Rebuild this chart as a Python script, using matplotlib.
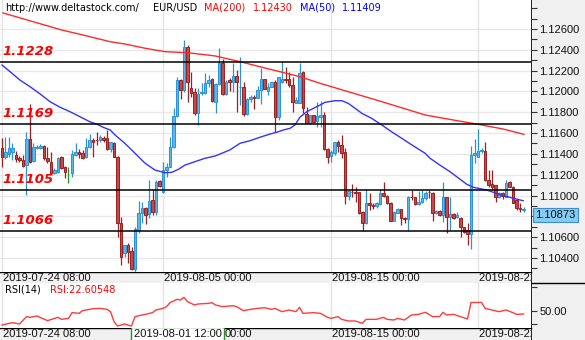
import matplotlib
matplotlib.use('Agg')
import matplotlib.pyplot as plt
import matplotlib.transforms as mtransforms
import numpy as np

# ---------------- data ----------------
opens = [1.11454,1.11374,1.11400,1.11422,1.11390,1.11364,1.11342,1.11294,1.11540,1.11332,
         1.11460,1.11454,1.11476,1.11358,1.11326,1.11214,1.11230,1.11368,1.11278,1.11214,
         1.11220,1.11390,1.11422,1.11412,1.11368,1.11464,1.11534,1.11534,1.11534,1.11550,
         1.11550,1.11444,1.11508,1.11374,1.10740,1.10452,1.10526,1.10472,1.10292,1.10670,
         1.10830,1.10878,1.10820,1.10958,1.10846,1.11140,1.11038,1.11246,1.11278,1.11464,
         1.11764,1.12110,1.12014,1.12424,1.12030,1.11998,1.11796,1.11982,1.11982,1.12084,
         1.12116,1.11902,1.12068,1.12276,1.11972,1.12110,1.12094,1.12148,1.12040,1.12046,
         1.11780,1.11924,1.11950,1.11940,1.12014,1.12116,1.12008,1.12046,1.12094,1.11752,
         1.12094,1.12116,1.12116,1.12062,1.11892,1.11892,1.12190,1.11784,1.11700,1.11774,
         1.11720,1.11758,1.11774,1.11444,1.11380,1.11412,1.11518,1.11486,1.11422,1.10996,
         1.11038,1.11038,1.11032,1.10846,1.10734,1.10926,1.10910,1.10904,1.10920,1.11022,
         1.10996,1.10932,1.10760,1.10836,1.10868,1.10782,1.10772,1.10990,1.10984,1.10920,
         1.10942,1.10974,1.11038,1.11028,1.10830,1.10852,1.10814,1.10984,1.10792,1.10824,
         1.10798,1.10788,1.10696,1.10670,1.10632,1.11390,1.11368,1.11432,1.11432,1.11150,
         1.11108,1.11102,1.10990,1.11022,1.10990,1.11131,1.11086,1.10958,1.10878,1.10862]
highs = [1.11550,1.11566,1.11560,1.11502,1.11432,1.11380,1.11390,1.11614,1.11880,1.11502,
         1.11486,1.11492,1.11486,1.11464,1.11422,1.11262,1.11374,1.11380,1.11284,1.11278,
         1.11438,1.11502,1.11444,1.11438,1.11550,1.11592,1.11550,1.11614,1.11582,1.11572,
         1.11630,1.11518,1.11518,1.11380,1.10798,1.10526,1.10542,1.10510,1.10702,1.10952,
         1.10942,1.10894,1.11150,1.11060,1.11150,1.11150,1.11326,1.11310,1.11560,1.11838,
         1.12142,1.12116,1.12494,1.12446,1.12190,1.12030,1.12030,1.12078,1.12180,1.12158,
         1.12126,1.12078,1.12414,1.12308,1.12110,1.12126,1.12276,1.12206,1.12328,1.12094,
         1.11934,1.11966,1.11966,1.12052,1.12222,1.12116,1.12078,1.12094,1.12110,1.12142,
         1.12296,1.12232,1.12190,1.12142,1.11950,1.12270,1.12200,1.11854,1.11774,1.11774,
         1.11902,1.11912,1.11806,1.11454,1.11438,1.11518,1.11534,1.11582,1.11454,1.11054,
         1.11112,1.11086,1.11038,1.10856,1.11060,1.11028,1.10926,1.10942,1.11060,1.11128,
         1.11006,1.10942,1.10856,1.10878,1.10875,1.10798,1.10996,1.11054,1.10990,1.11048,
         1.11054,1.11048,1.11054,1.11038,1.10862,1.10862,1.11134,1.10990,1.10990,1.10830,
         1.10846,1.10792,1.10702,1.10734,1.11476,1.11540,1.11636,1.11454,1.11518,1.11246,
         1.11246,1.11102,1.11038,1.11038,1.11150,1.11144,1.11092,1.10964,1.10926,1.10894]
lows = [1.11278,1.11348,1.11374,1.11342,1.11326,1.11326,1.11278,1.11006,1.11316,1.11323,
        1.11451,1.11444,1.11342,1.11310,1.11208,1.11208,1.11214,1.11252,1.11166,1.11124,
        1.11182,1.11380,1.11358,1.11348,1.11358,1.11454,1.11374,1.11486,1.11518,1.11518,
        1.11438,1.11422,1.11368,1.10606,1.10334,1.10408,1.10350,1.10280,1.10270,1.10638,
        1.10734,1.10728,1.10782,1.10814,1.10814,1.11080,1.11022,1.11182,1.11272,1.11454,
        1.11758,1.11924,1.11998,1.11902,1.11950,1.11774,1.11678,1.11966,1.11976,1.12046,
        1.11902,1.11790,1.12062,1.11966,1.11966,1.12004,1.11998,1.11806,1.11870,1.11764,
        1.11774,1.11902,1.11832,1.11934,1.11880,1.12020,1.11966,1.12040,1.11614,1.11726,
        1.12084,1.12084,1.12046,1.11806,1.11886,1.11886,1.11796,1.11694,1.11684,1.11700,
        1.11656,1.11662,1.11438,1.11310,1.11326,1.11390,1.11422,1.11358,1.10916,1.10958,
        1.10990,1.10942,1.10824,1.10664,1.10728,1.10862,1.10868,1.10878,1.10910,1.10990,
        1.10920,1.10756,1.10756,1.10830,1.10718,1.10740,1.10664,1.10958,1.10910,1.10910,
        1.10926,1.10958,1.10974,1.10760,1.10824,1.10804,1.10750,1.10638,1.10670,1.10772,
        1.10782,1.10600,1.10638,1.10526,1.10484,1.11310,1.11368,1.11412,1.11144,1.11086,
        1.11054,1.10942,1.10974,1.10964,1.10984,1.11080,1.10926,1.10862,1.10846,1.10846]
closes = [1.11374,1.11422,1.11454,1.11454,1.11348,1.11342,1.11288,1.11540,1.11326,1.11470,
          1.11470,1.11476,1.11358,1.11336,1.11214,1.11246,1.11358,1.11262,1.11230,1.11214,
          1.11400,1.11422,1.11400,1.11358,1.11470,1.11534,1.11518,1.11531,1.11560,1.11534,
          1.11444,1.11518,1.11374,1.10740,1.10408,1.10526,1.10462,1.10292,1.10676,1.10830,
          1.10878,1.10814,1.10952,1.10846,1.11134,1.11096,1.11246,1.11278,1.11464,1.11764,
          1.12110,1.12014,1.12424,1.12094,1.11988,1.11796,1.11976,1.11998,1.12084,1.12110,
          1.11908,1.12068,1.12270,1.11972,1.12094,1.12094,1.12148,1.12094,1.12046,1.11784,
          1.11924,1.11950,1.11940,1.12014,1.12116,1.12024,1.12046,1.12094,1.11752,1.12136,
          1.12116,1.12110,1.12062,1.11902,1.11918,1.12174,1.11844,1.11700,1.11774,1.11710,
          1.11764,1.11774,1.11444,1.11374,1.11422,1.11518,1.11476,1.11412,1.10996,1.11044,
          1.11032,1.11022,1.10836,1.10734,1.10926,1.10910,1.10904,1.10926,1.11022,1.10996,
          1.10932,1.10760,1.10840,1.10868,1.10782,1.10776,1.10984,1.10984,1.10920,1.10942,
          1.10974,1.11028,1.11032,1.10830,1.10852,1.10811,1.10984,1.10798,1.10824,1.10782,
          1.10814,1.10696,1.10654,1.10628,1.11390,1.11412,1.11432,1.11438,1.11150,1.11102,
          1.11086,1.10990,1.11022,1.10996,1.11124,1.11086,1.10932,1.10878,1.10872,1.10873]

ma200_idx = [0.3, 17.1, 23.2, 30.9, 35.1, 40.9, 46.6, 53.2, 60.9, 68.0, 76.6, 85.1, 90.9,
             98.9, 108.5, 120.9, 128.9, 136.1, 143.2, 149.1]
ma200_val = [1.12754, 1.12590, 1.12542, 1.12478, 1.12456, 1.12415, 1.12382, 1.12372, 1.12341,
             1.12286, 1.12213, 1.12142, 1.12078, 1.11998, 1.11902, 1.11774, 1.11726, 1.11684,
             1.11639, 1.11588]
ma50_idx = [0.0, 2.3, 5.1, 8.0, 10.9, 13.7, 16.6, 19.4, 22.3, 25.1, 27.0, 28.9, 30.9,
            32.3, 35.1, 38.0, 40.9, 43.7, 46.6, 48.5, 50.4, 52.3, 55.1, 58.0, 60.9,
            62.3, 65.1, 68.0, 70.9, 73.7, 76.6, 78.5, 80.4, 82.3, 83.7, 85.1, 87.1, 89.0, 90.9,
            92.3, 95.1, 97.1, 98.9, 100.9, 102.8, 105.6, 108.5, 111.3, 114.2, 117.1, 120.9,
            122.3, 125.1, 128.0, 130.9, 132.8, 134.7, 138.5, 143.2, 146.1, 148.9]
ma50_val = [1.12254, 1.12190, 1.12110, 1.12046, 1.11976, 1.11902, 1.11848, 1.11806, 1.11757,
            1.11709, 1.11687, 1.11656, 1.11630,
            1.11582, 1.11502, 1.11406, 1.11310, 1.11245, 1.11219, 1.11223, 1.11252, 1.11293,
            1.11325, 1.11358, 1.11380,
            1.11399, 1.11438, 1.11502, 1.11527, 1.11560, 1.11591, 1.11608, 1.11630, 1.11646,
            1.11678, 1.11752, 1.11806, 1.11838, 1.11870,
            1.11896, 1.11911, 1.11911, 1.11886, 1.11838, 1.11790, 1.11742, 1.11678, 1.11613,
            1.11550, 1.11486, 1.11406,
            1.11358, 1.11293, 1.11229, 1.11156, 1.11108, 1.11079, 1.11053, 1.10999, 1.10974,
            1.10950]

rsi_idx = [0,3,5,7,8,10,13,16,17,19,20,22,23,26,28,30,31,32,33,35,37,38,40,41,43,44,46,47,48,50,
           51,52,53,55,56,59,60,61,63,66,67,69,71,73,75,77,78,80,82,84,85,86,89,91,93,94,96,97,99,101,
           103,104,107,109,110,112,113,115,117,119,121,123,125,126,127,129,131,133,134,137,
           138,140,142,144,146,147,149]
rsi_val = [24.5,28.8,26.3,39.7,38.5,40.9,32.4,38.5,34.8,36.6,47.0,45.7,50.6,54.2,54.8,53.0,48.8,30.6,22.7,26.3,
           22.6,39.7,42.7,43.9,47.0,51.8,54.8,57.9,65.1,71.2,70.0,74.8,67.0,60.9,62.7,63.9,65.1,60.9,57.9,59.7,
           57.9,50.6,53.0,54.8,56.0,53.0,54.8,48.8,51.8,48.8,56.6,45.7,47.0,45.7,38.5,36.6,39.7,34.8,31.8,31.8,
           27.6,34.8,34.8,38.5,34.8,33.6,36.6,33.6,42.7,43.9,47.6,39.7,39.7,47.6,42.7,43.9,39.7,35.4,65.4,65.7,
           54.8,51.8,48.8,51.8,46.9,43.9,44.5]

levels = [1.1228, 1.1169, 1.1105, 1.1066]
date_idx = [0, 46, 94, 136]
date_labels = ['2019-07-24 08:00', '2019-08-05 00:00', '2019-08-15 00:00', '2019-08-22 00:00']
cross_idx = 37
cross_label = '2019-08-01 12:00'
price_ticks = [1.104, 1.106, 1.108, 1.110, 1.112, 1.114, 1.116, 1.118, 1.120, 1.122, 1.124, 1.126]

# ---------------- layout ----------------
W, H = 585, 340
fig = plt.figure(figsize=(W / 100, H / 100), dpi=100)
fig.patch.set_facecolor('white')

def px_axes(x0, y0, x1, y1):
    return fig.add_axes([x0 / W, 1 - y1 / H, (x1 - x0) / W, (y1 - y0) / H])

XL = (-0.571, 151.14)
AX_FONT = 'Liberation Sans'
HD_FONT = 'DejaVu Sans'

# right panel background
ax_rp = px_axes(531, 0, 585, 340)
ax_rp.set_facecolor('#f0f0f0')
ax_rp.set_xlim(0, 1); ax_rp.set_ylim(340, 0)
ax_rp.set_xticks([]); ax_rp.set_yticks([])
for s in ax_rp.spines.values():
    s.set_visible(False)
ax_rp.axvline(0, color='black', lw=1.2)
ax_rp.axhline(283.3, color='black', lw=1.0)
ax_rp.set_zorder(0)

# main price axes
ax = px_axes(0, 0, 531, 272)
ax.set_zorder(2)
ax.set_xlim(*XL)
ax.set_ylim(1.102655, 1.128786)
for s in ax.spines.values():
    s.set_visible(False)
ax.set_xticks([])
ax.yaxis.tick_right()
last = closes[-1]
# the tick label hidden behind the last-price box is left out (its tick stays as a minor tick)
shown = [t for t in price_ticks if abs(t - last) >= 0.001]
ax.set_yticks(shown)
ax.set_yticklabels([f'{t:.5f}' for t in shown], fontfamily=AX_FONT, fontsize=8, color='#111111')
ax.set_yticks(np.arange(1.103, 1.1281, 0.001), minor=True)
ax.tick_params(axis='y', which='both', direction='out', length=4, width=0.8, color='#333333', pad=2)
ax.tick_params(axis='y', which='minor', labelright=False, labelleft=False)
for t in price_ticks:
    ax.axhline(t, color='#e9e9e9', lw=1.0, zorder=0)
for d in date_idx:
    ax.axvline(d, color='#e4e4e4', lw=1.0, zorder=0)

# candles
o = np.array(opens); h = np.array(highs); l = np.array(lows); c = np.array(closes)
idx = np.arange(len(o))
up = c > o
dn = c < o
eq = c == o
blue_edge, blue_fill = '#2a93d5', '#5cb6ea'
red_edge, red_fill = '#9e1f1f', '#c44a4a'
ax.vlines(idx[up], l[up], h[up], color=blue_edge, lw=0.9, zorder=3)
ax.vlines(idx[dn], l[dn], h[dn], color=red_edge, lw=0.9, zorder=3)
ax.vlines(idx[eq], l[eq], h[eq], color='#1a9a1a', lw=0.9, zorder=3)
ax.bar(idx[up], (c - o)[up], bottom=o[up], width=0.72, color=blue_fill,
       edgecolor=blue_edge, linewidth=0.7, zorder=4)
ax.bar(idx[dn], (o - c)[dn], bottom=c[dn], width=0.72, color=red_fill,
       edgecolor=red_edge, linewidth=0.7, zorder=4)

# moving averages
ax.plot(ma200_idx, ma200_val, color='#ff2a2a', lw=1.0, zorder=5)
ax.plot(ma50_idx, ma50_val, color='#3333ff', lw=1.0, zorder=5)

# support / resistance
blend = mtransforms.blended_transform_factory(ax.transAxes, ax.transData)
for lv in levels:
    ax.axhline(lv, color='black', lw=1.1, zorder=6)
    ax.annotate(f'{lv:.4f}', xy=(0, lv), xycoords=blend, xytext=(2, 3),
                textcoords='offset points', ha='left', va='bottom', color='#ff0000',
                fontsize=9.5, fontweight='bold', fontstyle='italic', family=HD_FONT, zorder=7)

# last price box
ax.annotate(f'{last:.5f}', xy=(1, last), xycoords=blend, xytext=(3, -1),
            textcoords='offset points', ha='left', va='top', fontsize=8, family=AX_FONT,
            color='#111111', annotation_clip=False, zorder=8,
            bbox=dict(boxstyle='square,pad=0.2', fc='#86ccf2', ec='#3a8fd0', lw=0.8))

# header
def ftext(x, y, s, color='black', size=7, family=HD_FONT):
    fig.text(x / W, 1 - y / H, s, color=color, fontsize=size, family=family,
             ha='left', va='center', zorder=10)

ftext(5, 8, 'http://www.deltastock.com/')
ftext(153, 8, 'EUR/USD')
ftext(204, 8, 'MA(200)', color='#ff0000')
ftext(253, 8, f'{1.12430:.5f}', color='#ff0000')
ftext(300, 8, 'MA(50)', color='#0000ff')
ftext(342, 8, f'{1.11409:.5f}', color='#0000ff')

# date bands
def date_band(y0, y1, cross=False):
    b = px_axes(0, y0, 531, y1)
    b.set_facecolor('#f0f0f0')
    b.set_xlim(*XL); b.set_ylim(0, 1)
    b.set_xticks([]); b.set_yticks([])
    for k, s in b.spines.items():
        s.set_visible(k == 'top')
    b.spines['top'].set_color('black'); b.spines['top'].set_linewidth(1.0)
    b.set_zorder(1)
    for d, lab in zip(date_idx, date_labels):
        t = b.text(d + 0.4, 0.45, lab, fontsize=8, family=AX_FONT, color='#111111',
                   ha='left', va='center', clip_on=True, zorder=2)
        if cross and d > cross_idx and d < cross_idx + 26:
            # the crosshair label hides the start of this label; keep the visible tail only
            fig.canvas.draw()
            ext = t.get_window_extent()
            x_end = b.transData.inverted().transform((ext.x1, 0))[0]
            t.remove()
            b.text(x_end, 0.45, lab.split(' ')[1], fontsize=8, family=AX_FONT, color='#111111',
                   ha='right', va='center', clip_on=True, zorder=2)
    if cross:
        b.text(cross_idx + 0.6, 0.45, cross_label, fontsize=8, family=AX_FONT, color='#111111',
               ha='left', va='center', zorder=5, clip_on=True,
               bbox=dict(boxstyle='square,pad=0.25', fc='white', ec='#2e8b2e', lw=1.0))
    return b

date_band(272, 283.3)
date_band(327.7, 340, cross=True)

# RSI panel
ar = px_axes(0, 283.3, 531, 327.7)
ar.set_zorder(2)
ar.set_xlim(*XL)
ar.set_ylim(19.6, 100.4)
for s in ar.spines.values():
    s.set_visible(False)
ar.set_xticks([])
for d in date_idx:
    ar.axvline(d, color='#e4e4e4', lw=1.0, zorder=0)
ar.plot(rsi_idx, rsi_val, color='#ff3b3b', lw=1.0, zorder=3)
ar.yaxis.tick_right()
ar.set_yticks([50])
ar.set_yticklabels(['50.00'], fontfamily=AX_FONT, fontsize=8, color='#111111')
ar.set_yticks([26, 93], minor=True)
ar.tick_params(axis='y', which='both', direction='out', length=4, width=0.8, color='#333333', pad=2)
ar.tick_params(axis='y', which='minor', labelright=False, labelleft=False)
ar.text(0.01, 0.85, 'RSI(14)', transform=ar.transAxes, fontsize=7, family=HD_FONT,
        color='black', ha='left', va='center')
ar.text(0.094, 0.85, f'RSI:{22.60548:.5f}', transform=ar.transAxes, fontsize=7, family=HD_FONT,
        color='#ff0000', ha='left', va='center')

fig.savefig('out.png', dpi=100)
